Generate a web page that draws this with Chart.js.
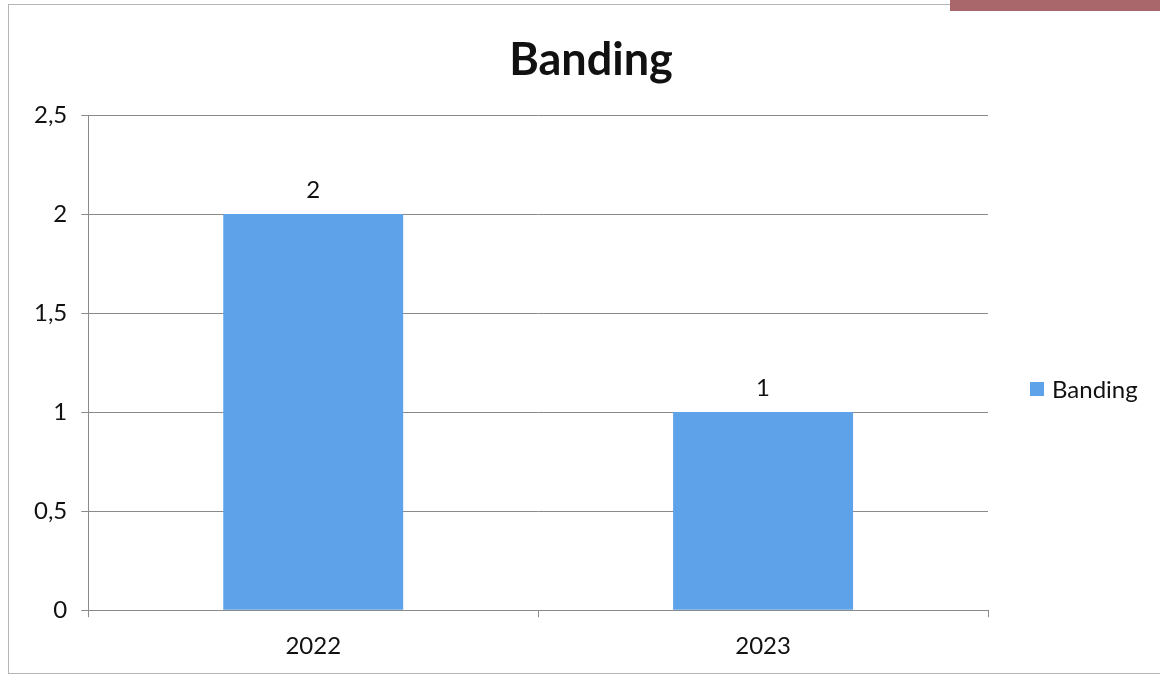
<!DOCTYPE html>
<html lang="en">
<head>
    <meta charset="UTF-8">
    <title>Banding</title>
    <script src="https://cdn.jsdelivr.net/npm/chart.js"></script>
    <style>
        body {
            margin: 0;
            background: #fff;
            width: 1160px;
            height: 682px;
            overflow: hidden;
            position: relative;
            font-family: Lato, "Open Sans", sans-serif;
        }
        .frame {
            position: absolute;
            left: 8px;
            top: 4px;
            width: 1160px;
            height: 668px;
            border-left: 1px solid #b5b5b5;
            border-bottom: 1px solid #b5b5b5;
            border-top: 1px solid #b5b5b5;
        }
        .tab {
            position: absolute;
            left: 950px;
            top: 0;
            width: 210px;
            height: 11px;
            background: #a9676b;
        }
        canvas {
            position: absolute;
            left: 0;
            top: 0;
        }
        .title {
            position: absolute;
            left: 0;
            top: 30px;
            width: 1182px;
            text-align: center;
            font-size: 45px;
            font-weight: bold;
            color: #111;
            line-height: 56px;
        }
        .legend {
            position: absolute;
            left: 1030px;
            top: 374px;
            font-size: 24px;
            color: #111;
            display: flex;
            align-items: center;
            white-space: nowrap;
        }
        .legend .box {
            width: 14px;
            height: 14px;
            background: #5ea2ea;
            margin-right: 8px;
        }
    </style>
</head>
<body>
    <div class="frame"></div>
    <div class="tab"></div>
    <canvas id="bandingChart" width="1160" height="682"></canvas>
    <div class="title" id="title"></div>
    <div class="legend" id="legend"></div>

    <script>
        const years = ['2022', '2023'];
        const bandingValues = [2, 1];
        const yTicks = [0, 0.5, 1, 1.5, 2, 2.5];
        const seriesName = 'Banding';
        const chartTitle = 'Banding';
        const barColor = '#5ea2ea';

        const fontFamily = 'Lato, "Open Sans", sans-serif';

        // value labels above the bars
        const valueLabels = {
            id: 'valueLabels',
            afterDatasetsDraw(chart) {
                const ctx = chart.ctx;
                const meta = chart.getDatasetMeta(0);
                ctx.save();
                ctx.font = '24px ' + fontFamily;
                ctx.fillStyle = '#111';
                ctx.textAlign = 'center';
                ctx.textBaseline = 'bottom';
                meta.data.forEach((bar, i) => {
                    ctx.fillText(String(bandingValues[i]), bar.x, bar.y - 12);
                });
                ctx.restore();
            }
        };

        const ctx = document.getElementById('bandingChart').getContext('2d');
        const chart = new Chart(ctx, {
            type: 'bar',
            data: {
                labels: years,
                datasets: [{
                    label: seriesName,
                    data: bandingValues,
                    backgroundColor: barColor,
                    categoryPercentage: 0.8,
                    barPercentage: 0.5
                }]
            },
            options: {
                responsive: false,
                animation: false,
                layout: { padding: { left: 20, right: 172, top: 115, bottom: 6 } },
                scales: {
                    x: {
                        grid: {
                            offset: true,
                            drawOnChartArea: false,
                            drawTicks: true,
                            tickLength: 7,
                            color: '#8a8a8a'
                        },
                        border: { color: '#8a8a8a' },
                        ticks: {
                            color: '#111',
                            padding: 15,
                            font: { family: fontFamily, size: 24 }
                        }
                    },
                    y: {
                        min: 0,
                        max: 2.5,
                        afterBuildTicks(axis) {
                            axis.ticks = yTicks.map(v => ({ value: v }));
                        },
                        grid: {
                            color: '#8a8a8a',
                            tickLength: 7
                        },
                        border: { color: '#8a8a8a' },
                        ticks: {
                            color: '#111',
                            padding: 14,
                            font: { family: fontFamily, size: 24 },
                            callback: v => String(v).replace('.', ',')
                        }
                    }
                },
                plugins: {
                    title: { display: false },
                    legend: { display: false },
                    tooltip: { enabled: false }
                }
            },
            plugins: [valueLabels]
        });

        document.getElementById('title').textContent = chartTitle;
        document.getElementById('legend').innerHTML =
            '<span class="box"></span>' + seriesName;
    </script>
</body>
</html>
